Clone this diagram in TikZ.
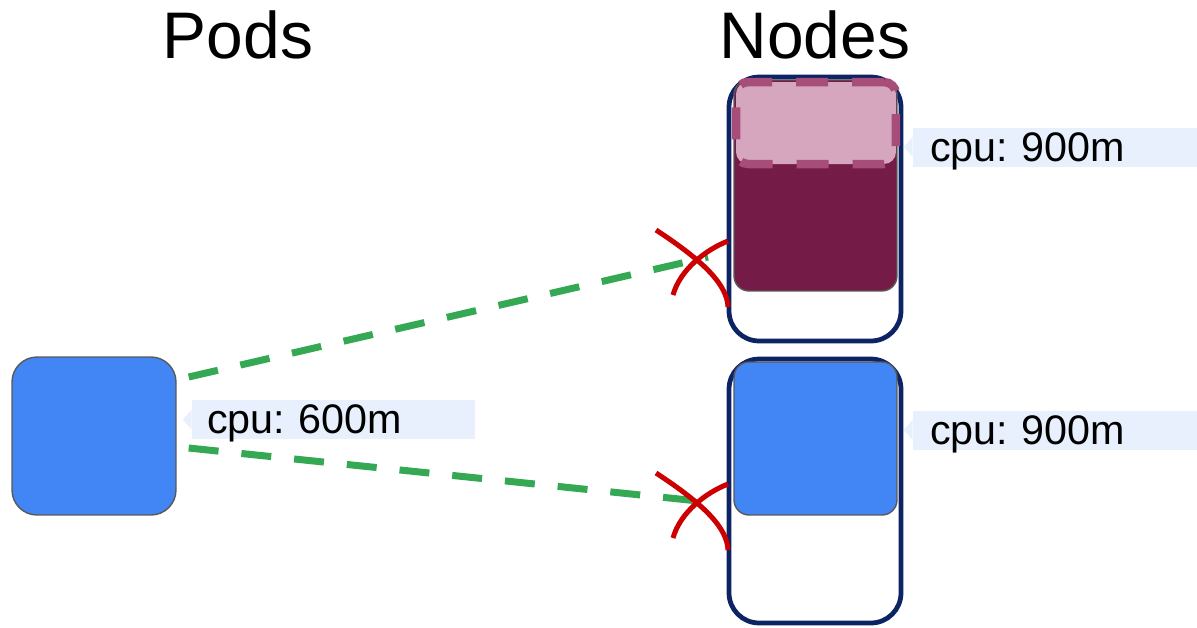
\documentclass[tikz,border=0pt]{standalone}
\usepackage{fontspec}
\setmainfont{Liberation Sans}
\usetikzlibrary{positioning}
\frenchspacing
\definecolor{podblue}{RGB}{66,133,244}
\definecolor{nodenavy}{RGB}{12,35,100}
\definecolor{usedred}{RGB}{116,27,71}
\definecolor{reqpink}{RGB}{213,166,189}
\definecolor{reqedge}{RGB}{166,77,121}
\definecolor{tagblue}{RGB}{232,240,253}
\definecolor{fitgreen}{RGB}{52,168,83}
\definecolor{nofitred}{RGB}{204,0,0}
\definecolor{boxgray}{RGB}{89,89,89}

\begin{document}
\begin{tikzpicture}[x=0.02cm,y=-0.02cm,
    title/.style={anchor=base,font=\fontsize{37.5}{42}\selectfont},
    podbox/.style={draw=boxgray,line width=0.8pt,fill=podblue,rounded corners=0.5cm,minimum width=3.28cm,minimum height=3.16cm,inner sep=0pt},
    nodebox/.style={draw=nodenavy,line width=0.095cm,rounded corners=0.6cm,minimum width=3.44cm,minimum height=5.28cm,inner sep=0pt},
    usedbox/.style={draw=boxgray,line width=0.8pt,rounded corners=0.3cm,minimum width=3.26cm,inner sep=0pt},
    reqbox/.style={draw=reqedge,fill=reqpink,line width=0.17cm,dash pattern=on 0.64cm off 0.48cm,rounded corners=0.24cm,minimum width=3.2cm,minimum height=1.64cm,inner sep=0pt},
    tag/.style={fill=tagblue,font=\fontsize{23.5}{26}\selectfont,text depth=0pt,align=left,inner ysep=0pt,minimum height=0.78cm},
    fitline/.style={draw=fitgreen,line width=0.14cm,dash pattern=on 0.6cm off 0.46cm},
    nofit/.pic={
        \draw[nofitred,line width=0.1cm] (-42,-29) .. controls (7,3) and (29,26) .. (30,48);
        \draw[nofitred,line width=0.1cm] (-25,36) .. controls (-18,11) and (7,-9) .. (30,-18);
    }
]
\useasboundingbox (0,0) rectangle (1197,627);

\node[title] (podtitle) at (238,58) {Pods};
\node[title] (nodetitle) at (815,58) {Nodes};

% pending pod
\node[podbox] (pod) at (94,436) {};
\node[tag,text width=5.06cm,inner xsep=0.3cm] (podtag) at (333.5,419.5) {cpu: 600m};
\fill[tagblue] (podtag.west) ++(0,-10) -- ++(-9,10) -- ++(9,10) -- cycle;

% first node, with the requested space on top
\node[nodebox] (node1) at (815,209) {};
\node[usedbox,fill=usedred,minimum height=4.22cm] (used1) at (815.5,185.5) {};
\node[reqbox] (req1) at (816,123) {};
\node[tag,text width=5.0cm,inner xsep=0.34cm] (tag1) at (1055,147) {cpu: 900m};
\fill[tagblue] (tag1.west) ++(0,-10) -- ++(-9,10) -- ++(9,10) -- cycle;

% second node
\node[nodebox] (node2) at (815,491) {};
\node[usedbox,fill=podblue,minimum height=3.06cm] (used2) at (815.5,438.5) {};
\node[tag,text width=5.0cm,inner xsep=0.34cm] (tag2) at (1055,430) {cpu: 900m};
\fill[tagblue] (tag2.west) ++(0,-10) -- ++(-9,10) -- ++(9,10) -- cycle;

% tries that do not fit
\coordinate (miss1) at (698,259);
\coordinate (miss2) at (698,502);
\draw[fitline] ([shift={(12,-59)}]pod.east) -- ([shift={(10,-2)}]miss1);
\draw[fitline] ([shift={(12,12)}]pod.east) -- ([shift={(10,0)}]miss2);
\pic at (miss1) {nofit};
\pic at (miss2) {nofit};
\end{tikzpicture}
\end{document}
